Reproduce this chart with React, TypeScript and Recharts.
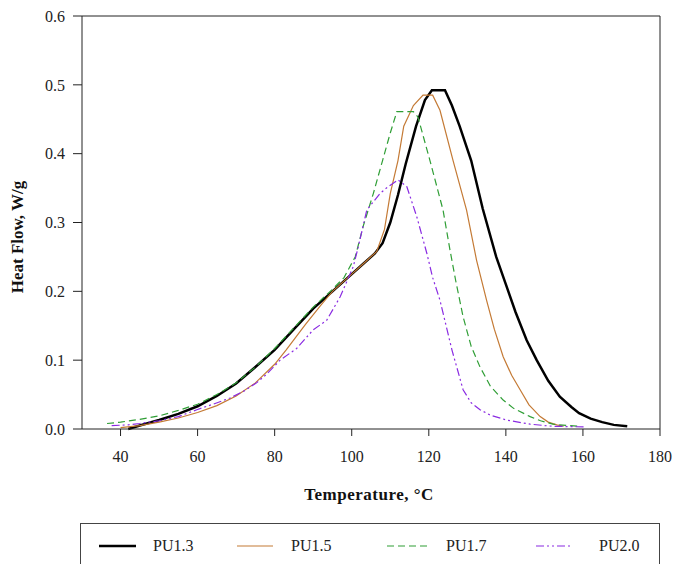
import { LineChart, Line, XAxis, YAxis, ReferenceLine } from 'recharts'

// PU1.3
const pu13Temp = [42, 45, 50, 55, 60, 65, 70, 75, 80, 85, 90, 95, 100, 103, 106, 108, 110, 112, 114, 116.7, 119, 120.8, 124.2, 126, 128, 131, 134, 137.5, 140, 142.5, 145.4, 148, 151, 154, 157, 159, 162, 165, 168, 171.5]
const pu13Flow = [0.0, 0.005, 0.013, 0.022, 0.033, 0.048, 0.066, 0.09, 0.115, 0.145, 0.175, 0.2, 0.225, 0.24, 0.255, 0.27, 0.3, 0.34, 0.385, 0.44, 0.478, 0.492, 0.492, 0.47, 0.44, 0.39, 0.32, 0.25, 0.21, 0.17, 0.129, 0.1, 0.07, 0.047, 0.032, 0.023, 0.015, 0.01, 0.006, 0.004]

// PU1.5
const pu15Temp = [40, 45, 50, 55, 60, 65, 70, 75, 80, 83, 88, 92, 95, 100, 103, 106.5, 108.5, 110, 112, 113.5, 116, 118.5, 121, 122.9, 126.3, 129.8, 132.4, 135, 137, 139.3, 141.5, 143.7, 146, 148.9, 151, 153.2, 155]
const pu15Flow = [0.002, 0.005, 0.01, 0.016, 0.024, 0.034, 0.048, 0.067, 0.094, 0.115, 0.152, 0.18, 0.2, 0.225, 0.24, 0.258, 0.29, 0.342, 0.39, 0.44, 0.47, 0.485, 0.485, 0.463, 0.39, 0.318, 0.245, 0.187, 0.145, 0.105, 0.078, 0.057, 0.035, 0.018, 0.01, 0.006, 0.004]

// PU1.7
const pu17Temp = [36.5, 40, 45, 50, 55, 60, 65, 70, 75, 80, 85, 90, 95, 98, 100.9, 103, 105.6, 108, 110, 111.7, 116, 117.2, 120.3, 123.7, 125.5, 127, 128.9, 131, 133.3, 136, 139.3, 142, 146.3, 149, 152.2, 156, 159]
const pu17Flow = [0.008, 0.01, 0.014, 0.019, 0.027, 0.036, 0.05, 0.067, 0.09, 0.117, 0.147, 0.177, 0.203, 0.22, 0.25, 0.295, 0.342, 0.39, 0.43, 0.461, 0.461, 0.453, 0.39, 0.318, 0.26, 0.215, 0.163, 0.12, 0.09, 0.062, 0.042, 0.03, 0.018, 0.012, 0.007, 0.005, 0.004]

// PU2.0
const pu20Temp = [37.7, 42, 45, 50, 55, 59.8, 64, 68.4, 72, 75.3, 78, 81.4, 85.7, 90, 93.5, 97, 100.4, 101.5, 103.9, 107.3, 109, 112, 114.3, 116.9, 119.5, 121, 122.9, 126, 128.9, 131, 133.3, 136, 140.2, 146.3, 152, 160.5]
const pu20Flow = [0.005, 0.006, 0.008, 0.012, 0.018, 0.028, 0.036, 0.045, 0.055, 0.067, 0.08, 0.1, 0.117, 0.144, 0.158, 0.192, 0.236, 0.26, 0.318, 0.342, 0.35, 0.362, 0.352, 0.308, 0.255, 0.22, 0.187, 0.115, 0.057, 0.038, 0.028, 0.02, 0.013, 0.007, 0.004, 0.003]

const xTicks = [40, 60, 80, 100, 120, 140, 160, 180]
const yTicks = [0, 0.1, 0.2, 0.3, 0.4, 0.5, 0.6]

const toPoints = (t: number[], f: number[]) => t.map((x, i) => ({ t: x, v: f[i] }))

const SERIES = [
  { name: 'PU1.3', data: toPoints(pu13Temp, pu13Flow), color: '#000000', width: 2.5, dash: undefined },
  { name: 'PU1.5', data: toPoints(pu15Temp, pu15Flow), color: '#c47a35', width: 1.2, dash: undefined },
  { name: 'PU1.7', data: toPoints(pu17Temp, pu17Flow), color: '#2f9e35', width: 1.2, dash: '7 4' },
  { name: 'PU2.0', data: toPoints(pu20Temp, pu20Flow), color: '#8a2be2', width: 1.2, dash: '8 3 2 3 2 3' },
]

const FONT = '"Liberation Serif", "Times New Roman", serif'
const AXIS = '#222'

// legend sample line x-ranges and text starts
const LEGEND_POS = [
  { x1: 18, x2: 55, tx: 72 },
  { x1: 156, x2: 192, tx: 210 },
  { x1: 306, x2: 348, tx: 365 },
  { x1: 455, x2: 492, tx: 518 },
]

export default function App() {
  return (
    <div style={{ position: 'absolute', left: 0, top: 0, width: 675, height: 564, background: '#fff', fontFamily: FONT, overflow: 'hidden' }}>
      <LineChart width={675} height={564} margin={{ top: 16, right: 15, bottom: 105, left: 22 }}>
        <XAxis
          type="number"
          dataKey="t"
          domain={[30, 180]}
          ticks={xTicks}
          allowDuplicatedCategory={false}
          height={30}
          tickSize={7}
          tickMargin={15}
          stroke={AXIS}
          tick={{ fill: '#222', fontSize: 16, fontFamily: FONT }}
        />
        <YAxis
          type="number"
          domain={[0, 0.6]}
          ticks={yTicks}
          width={60}
          tickSize={9}
          tickMargin={8}
          stroke={AXIS}
          tickFormatter={(v: number) => v.toFixed(1)}
          tick={{ fill: '#222', fontSize: 16, fontFamily: FONT }}
        />
        <ReferenceLine y={0.6} stroke={AXIS} />
        <ReferenceLine x={180} stroke={AXIS} />
        {SERIES.map(s => (
          <Line
            key={s.name}
            data={s.data}
            dataKey="v"
            type="linear"
            stroke={s.color}
            strokeWidth={s.width}
            strokeDasharray={s.dash}
            dot={false}
            isAnimationActive={false}
          />
        ))}
      </LineChart>
      {/* axis titles */}
      <div style={{ position: 'absolute', left: 369, top: 495, transform: 'translate(-50%, -50%)', fontWeight: 'bold', fontSize: 17, letterSpacing: 0.5, whiteSpace: 'nowrap', color: '#111' }}>
        Temperature, °C
      </div>
      <div style={{ position: 'absolute', left: 18, top: 237, transform: 'translate(-50%, -50%) rotate(-90deg)', fontWeight: 'bold', fontSize: 17, whiteSpace: 'nowrap', color: '#111' }}>
        Heat Flow, W/g
      </div>
      {/* legend */}
      <div style={{ position: 'absolute', left: 80, top: 523, width: 580, height: 60, border: '1px solid #444', boxSizing: 'border-box' }}>
        {SERIES.map((s, i) => (
          <div key={s.name}>
            <svg style={{ position: 'absolute', left: 0, top: 0 }} width={580} height={40}>
              <line x1={LEGEND_POS[i].x1} x2={LEGEND_POS[i].x2} y1={22} y2={22} stroke={s.color} strokeWidth={s.width} strokeDasharray={s.dash} />
            </svg>
            <span style={{ position: 'absolute', left: LEGEND_POS[i].tx, top: 12, fontSize: 16, lineHeight: '20px', color: '#222' }}>{s.name}</span>
          </div>
        ))}
      </div>
    </div>
  )
}
